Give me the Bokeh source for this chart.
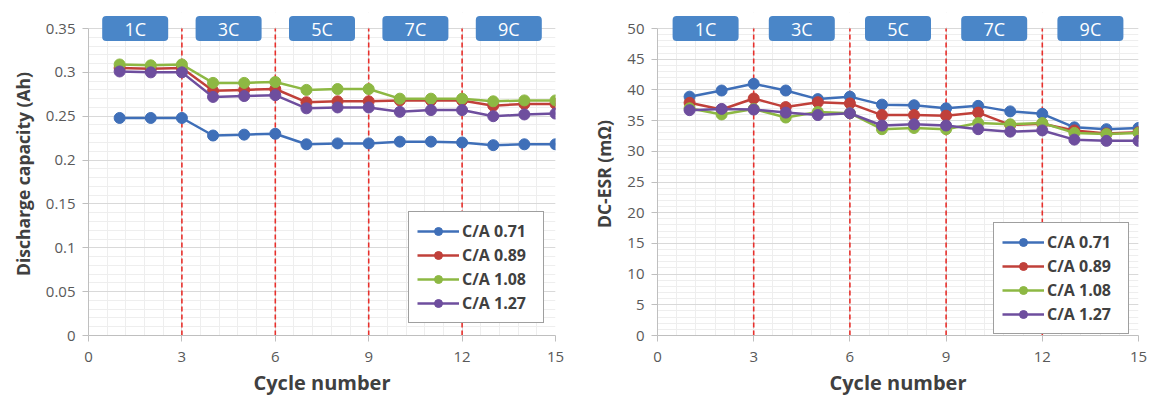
from bokeh.plotting import figure
from bokeh.models import (Range1d, SingleIntervalTicker, Legend, LegendItem,
                          NumeralTickFormatter)
from bokeh.core.properties import value
from bokeh.layouts import row
from bokeh.embed import file_html
from bokeh.resources import INLINE

# ---------------- data ----------------
cycles = list(range(1, 16))
series_names = ["C/A 0.71", "C/A 0.89", "C/A 1.08", "C/A 1.27"]
series_colors = ["#3F6FB8", "#C0403A", "#8DB843", "#6E4E9E"]

cap_071 = [0.248, 0.248, 0.248, 0.228, 0.229, 0.230, 0.218, 0.219, 0.219, 0.221, 0.221, 0.220, 0.217, 0.218, 0.218]
cap_089 = [0.305, 0.304, 0.305, 0.279, 0.280, 0.281, 0.266, 0.267, 0.267, 0.268, 0.268, 0.268, 0.262, 0.264, 0.264]
cap_108 = [0.309, 0.308, 0.309, 0.288, 0.288, 0.289, 0.280, 0.281, 0.281, 0.270, 0.270, 0.270, 0.267, 0.268, 0.268]
cap_127 = [0.301, 0.300, 0.300, 0.272, 0.273, 0.274, 0.259, 0.260, 0.260, 0.255, 0.257, 0.257, 0.250, 0.252, 0.253]

esr_071 = [38.9, 39.9, 41.0, 39.9, 38.5, 38.9, 37.6, 37.5, 37.0, 37.4, 36.5, 36.1, 33.9, 33.6, 33.8]
esr_089 = [37.9, 36.8, 38.6, 37.2, 38.0, 37.8, 35.9, 35.9, 35.8, 36.3, 34.3, 34.5, 33.4, 32.9, 33.1]
esr_108 = [37.0, 36.0, 36.9, 35.5, 36.4, 36.2, 33.6, 33.8, 33.6, 34.6, 34.4, 34.6, 33.0, 32.8, 33.0]
esr_127 = [36.7, 36.9, 36.8, 36.3, 35.9, 36.2, 34.2, 34.4, 34.2, 33.6, 33.2, 33.4, 31.9, 31.7, 31.7]

rate_labels = ["1C", "3C", "5C", "7C", "9C"]
rate_label_x = [1.5, 4.5, 7.5, 10.5, 13.5]
rate_boundaries = [3, 6, 9, 12]

FONT = "Open Sans"
FIG_H = 398
BORDER_TOP = 12       # px above the axis top, room for the rate boxes
BORDER_BOTTOM = 63
AXIS_PX = 307         # px from axis 0 to axis top


def make_fig(series, ylabel, yend, yinterval, yfmt, width, bl, br, legend_loc):
    px = yend / AXIS_PX
    ytop = yend + 16 * px
    p = figure(width=width, height=FIG_H, output_backend="svg", toolbar_location=None,
               x_range=Range1d(0, 15), y_range=Range1d(0, ytop),
               min_border_left=bl, min_border_right=br, min_border_top=BORDER_TOP,
               min_border_bottom=BORDER_BOTTOM)
    p.outline_line_color = None
    p.background_fill_color = "white"

    p.xaxis.ticker = SingleIntervalTicker(interval=3, num_minor_ticks=5)
    p.yaxis.ticker = SingleIntervalTicker(interval=yinterval, num_minor_ticks=5)
    p.yaxis.formatter = NumeralTickFormatter(format=yfmt)
    p.yaxis.bounds = (0, yend + px * 0.5)

    for ax in (p.xaxis, p.yaxis):
        ax.axis_line_color = "#BFBFBF"
        ax.major_tick_line_color = "#BFBFBF"
        ax.minor_tick_line_color = None
        ax.major_tick_in = 0
        ax.major_tick_out = 6
        ax.major_label_text_font = FONT
        ax.major_label_text_font_size = "15px"
        ax.major_label_text_color = "#595959"
        ax.axis_label_text_font = FONT
        ax.axis_label_text_font_style = "bold"
        ax.axis_label_text_color = "#404040"
    p.xaxis.axis_label = "Cycle number"
    p.xaxis.axis_label_text_font_size = "20px"
    p.xaxis.major_label_standoff = 10
    p.xaxis.axis_label_standoff = 4
    p.yaxis.axis_label = ylabel
    p.yaxis.axis_label_text_font_size = "17.5px"
    p.yaxis.major_label_standoff = 7
    p.yaxis.axis_label_standoff = 8

    p.grid.grid_line_color = "#D9D9D9"
    p.grid.minor_grid_line_color = "#EEEEEE"

    # white band above the axis top, behind the rate boxes
    p.quad(left=[0], right=[15], bottom=[yend + px], top=[ytop + px],
           fill_color="white", line_color=None)

    # rate boundaries
    p.segment(x0=rate_boundaries, y0=[0] * len(rate_boundaries),
              x1=rate_boundaries, y1=[yend] * len(rate_boundaries),
              line_color="#E8302C", line_width=1.6, line_dash="5 3")

    items = []
    for name, col, ys in zip(series_names, series_colors, series):
        l = p.line(cycles, ys, line_color=col, line_width=2.5)
        c = p.scatter(cycles, ys, size=11, fill_color=col, line_color=col)
        items.append(LegendItem(label=name, renderers=[l, c]))

    # rate boxes
    p.rect(x=rate_label_x, y=[yend] * len(rate_labels), width=66, height=25,
           width_units="screen", height_units="screen",
           fill_color="#4A86C8", line_color=None, border_radius=4)
    p.text(x=rate_label_x, y=[yend] * len(rate_labels), text=rate_labels,
           text_align="center", text_baseline="middle", text_color="white",
           text_font=value(FONT), text_font_size="18px")

    legend = Legend(items=items, location=legend_loc, border_line_color="#404040",
                    border_line_width=1, background_fill_color="white",
                    background_fill_alpha=1.0,
                    label_text_font=FONT, label_text_font_size="16px",
                    label_text_font_style="bold", label_text_color="#404040",
                    glyph_width=42, glyph_height=20, label_height=20, label_width=73,
                    spacing=2, padding=8, margin=0, label_standoff=3)
    p.add_layout(legend, "center")
    return p


p1 = make_fig([cap_071, cap_089, cap_108, cap_127], "Discharge capacity (Ah)",
              0.35, 0.05, "0.[00]", 575, 88, 20, (320, 12))
p2 = make_fig([esr_071, esr_089, esr_108, esr_127], "DC-ESR (mΩ)",
              50, 5, "0", 574, 82, 11, (336, 1))

layout = row(p1, p2)
open("out.html", "w").write(file_html(layout, INLINE))
